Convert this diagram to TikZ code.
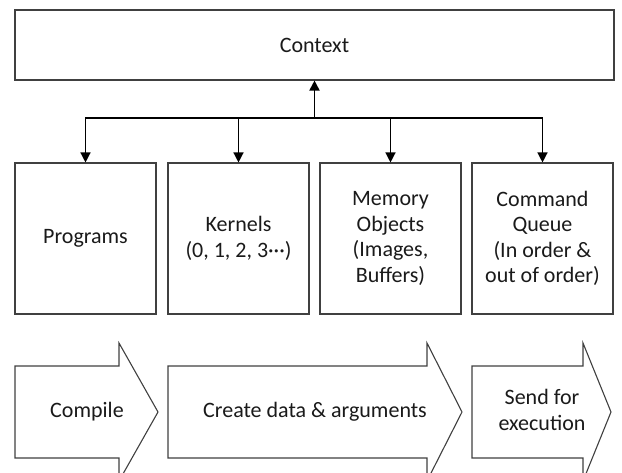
\documentclass[tikz,border=0pt]{standalone}
\usepackage{fontspec}
\setmainfont{Carlito}
\usetikzlibrary{arrows.meta}
\definecolor{edge}{HTML}{404040}
\definecolor{ink}{HTML}{1A1A1A}
\tikzset{
  box/.style={draw=edge, line width=1.1pt, fill=white, minimum width=#1, inner sep=0pt, align=center, text=ink},
  box/.default=141pt,
  lbl/.style={text=ink, align=center, inner sep=0pt},
  conn/.style={draw=black, line width=1.3pt},
  arr/.style={conn, -{Triangle[length=10pt,width=10pt]}},
  flow/.style={draw=edge, line width=1.1pt, fill=white, line join=miter}
}
\begin{document}
\begin{tikzpicture}[x=1pt,y=-1pt, font=\fontsize{22}{25.5}\selectfont]
\useasboundingbox (0,0) rectangle (622,472);
\clip (0,0) rectangle (622,472);
\node[box=599pt, minimum height=70pt] (ctx) at (314.5,45) {Context};
\node[box, minimum height=151pt] (b1) at (85.5,238.5) {Programs};
\node[box, minimum height=151pt] (b2) at (238.5,238.5) {Kernels\\(0, 1, 2, 3···)};
\node[box, minimum height=151pt] (b3) at (390.5,238.5) {Memory\\Objects\\(Images,\\Buffers)};
\node[box, minimum height=151pt] (b4) at (542.5,238.5) {Command\\Queue\\(In order \&\\out of order)};
\coordinate (hub) at (314.5,118);
\draw[arr, line width=1.8pt] (hub) -- (ctx.south);
\draw[arr] (hub) -| (b1.north);
\draw[arr] (hub) -| (b2.north);
\draw[arr] (hub) -| (b3.north);
\draw[arr] (hub) -| (b4.north);
\draw[flow] (15,366) -- (119,366) -- (119,343) -- (158,412) -- (119,481) -- (119,458) -- (15,458) -- cycle;
\draw[flow] (168,366) -- (427,366) -- (427,343) -- (462,412) -- (427,481) -- (427,458) -- (168,458) -- cycle;
\draw[flow] (472,366) -- (583,366) -- (583,343) -- (611,412) -- (583,481) -- (583,458) -- (472,458) -- cycle;
\node[lbl] (t1) at (87,412) {Compile};
\node[lbl] (t2) at (315,412) {Create data \& arguments};
\node[lbl] (t3) at (542,410) {Send for\\execution};
\end{tikzpicture}
\end{document}
